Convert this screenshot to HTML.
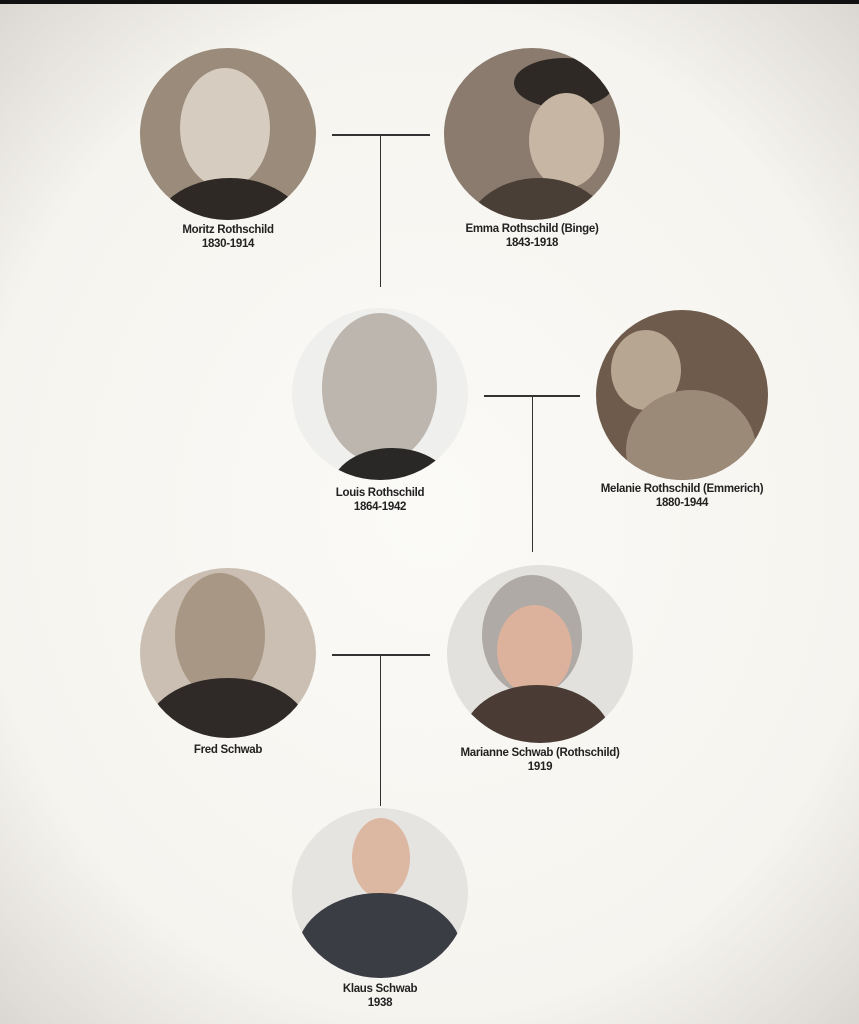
<!DOCTYPE html>
<html><head><meta charset="utf-8"><style>
html,body{margin:0;padding:0}
body{width:859px;height:1024px;position:relative;overflow:hidden;background:radial-gradient(ellipse 75% 70% at 50% 50%,#fbfaf7 0%,#f6f4ef 70%,#d8d5cf 100%);font-family:"Liberation Sans Narrow","Liberation Sans",sans-serif}
.top{position:absolute;left:0;top:0;width:859px;height:4px;background:#111}
.c{position:absolute;border-radius:50%;overflow:hidden}
.c i{position:absolute;display:block;border-radius:50%}
.l{position:absolute;background:#333}
.t{position:absolute;width:240px;text-align:center;font-weight:bold;font-size:11.5px;letter-spacing:-0.3px;line-height:14px;color:#222}
</style></head><body>
<div class="top"></div>
<div class="c" style="left:140px;top:48px;width:176px;height:172px;background:#9a8b7b">
 <i style="left:40px;top:20px;width:90px;height:120px;background:#d6ccc0"></i>
 <i style="left:10px;top:130px;width:160px;height:120px;background:#2e2924"></i>
</div>
<div class="c" style="left:444px;top:48px;width:176px;height:172px;background:#8a7b6e">
 <i style="left:70px;top:10px;width:100px;height:50px;background:#2f2925"></i>
 <i style="left:85px;top:45px;width:75px;height:95px;background:#c7b6a3"></i>
 <i style="left:20px;top:130px;width:150px;height:120px;background:#4a3f36"></i>
</div>
<div class="c" style="left:292px;top:308px;width:176px;height:172px;background:#efefed">
 <i style="left:30px;top:5px;width:115px;height:150px;background:#bdb6ae"></i>
 <i style="left:40px;top:140px;width:120px;height:80px;background:#2a2826"></i>
</div>
<div class="c" style="left:596px;top:310px;width:172px;height:170px;background:#6e5b4b">
 <i style="left:15px;top:20px;width:70px;height:80px;background:#b7a692"></i>
 <i style="left:30px;top:80px;width:130px;height:120px;background:#9c8a78"></i>
</div>
<div class="c" style="left:140px;top:568px;width:176px;height:170px;background:#cabfb2">
 <i style="left:35px;top:5px;width:90px;height:125px;background:#a89784"></i>
 <i style="left:5px;top:110px;width:165px;height:110px;background:#2f2a27"></i>
</div>
<div class="c" style="left:447px;top:565px;width:186px;height:178px;background:#e3e1de">
 <i style="left:35px;top:10px;width:100px;height:120px;background:#b0aaa6"></i>
 <i style="left:50px;top:40px;width:75px;height:90px;background:#dcb29c"></i>
 <i style="left:15px;top:120px;width:150px;height:110px;background:#4a3c34"></i>
</div>
<div class="c" style="left:292px;top:808px;width:176px;height:170px;background:#e6e4e1">
 <i style="left:60px;top:10px;width:58px;height:80px;background:#dcb7a2"></i>
 <i style="left:5px;top:85px;width:165px;height:120px;background:#3a3d44"></i>
</div>
<div class="l" style="left:332px;top:134px;width:98px;height:1.5px"></div>
<div class="l" style="left:379.5px;top:135px;width:1.5px;height:152px"></div>
<div class="l" style="left:484px;top:395px;width:96px;height:1.5px"></div>
<div class="l" style="left:531.5px;top:396px;width:1.5px;height:156px"></div>
<div class="l" style="left:332px;top:654px;width:98px;height:1.5px"></div>
<div class="l" style="left:379.5px;top:655px;width:1.5px;height:151px"></div>
<div class="t" style="left:108px;top:223px">Moritz Rothschild<br>1830-1914</div>
<div class="t" style="left:412px;top:222px">Emma Rothschild (Binge)<br>1843-1918</div>
<div class="t" style="left:260px;top:486px">Louis Rothschild<br>1864-1942</div>
<div class="t" style="left:562px;top:482px">Melanie Rothschild (Emmerich)<br>1880-1944</div>
<div class="t" style="left:108px;top:743px">Fred Schwab</div>
<div class="t" style="left:420px;top:746px">Marianne Schwab (Rothschild)<br>1919</div>
<div class="t" style="left:260px;top:982px">Klaus Schwab<br>1938</div>
</body></html>
